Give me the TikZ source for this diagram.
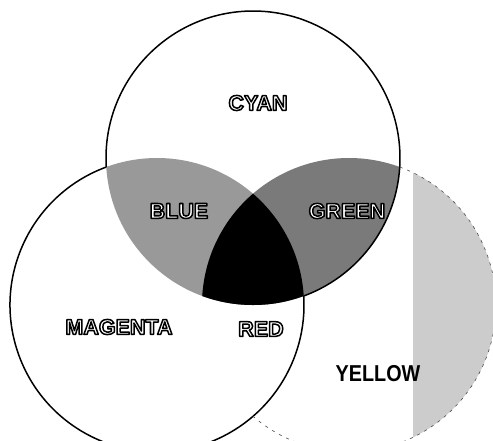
\documentclass[tikz,border=0pt]{standalone}
\usepackage{fontspec}
\setmainfont{Liberation Sans}

% white letters with a black outline
\newcommand{\outlined}[1]{{\color{white}\special{pdf:literal direct 2 Tr 1.5 w 1 j 0 G}#1\special{pdf:literal direct 0 Tr}}}

\begin{document}
\begin{tikzpicture}[x=1pt, y=-1pt,
  hollow/.style   = {font=\fontsize{21.5}{21.5}\selectfont\bfseries},
  plainlbl/.style = {text=black, font=\fontsize{23}{23}\selectfont\bfseries},
  ring/.style     = {line width=1.5pt},
  yring/.style    = {line width=0.6pt, black!70, dash pattern=on 3pt off 5pt}
]
  \useasboundingbox (0,0) rectangle (493,440);

  % circle centres
  \coordinate (cyanc) at (253,158);
  \coordinate (magc)  at (157,305);
  \coordinate (yelc)  at (349,305);

  % stipple on the right of yellow
  \begin{scope}
    \clip (yelc) circle (147);
    \fill[black!20] (413,150) rectangle (500,450);
  \end{scope}

  % overlaps
  \begin{scope}
    \clip (cyanc) circle (147);
    \fill[black!40] (magc) circle (147);
    \fill[black!52] (yelc) circle (147);
    \clip (magc) circle (147);
    \fill[black] (yelc) circle (147);
  \end{scope}

  % outlines
  \draw[ring]  (cyanc) ++(176.5:147) arc (176.5:429.8:147);
  \draw[ring]  (magc)  ++(249.8:147) arc (249.8:-3.5:147);
  \draw[yring] (yelc)  ++(-69.8:147) arc (-69.8:130.8:147);

  % labels
  \node[hollow]   (cyanlbl)    at (258,103) {\outlined{CYAN}};
  \node[hollow]   (bluelbl)    at (179,211) {\outlined{BLUE}};
  \node[hollow]   (greenlbl)   at (347,211) {\outlined{GREEN}};
  \node[hollow]   (magentalbl) at (119,327) {\outlined{MAGENTA}};
  \node[hollow]   (redlbl)     at (261,329) {\outlined{RED}};
  \node[plainlbl] (yellowlbl)  at (378,374) {\scalebox{0.86}[1]{YELLOW}};

\end{tikzpicture}
\end{document}
